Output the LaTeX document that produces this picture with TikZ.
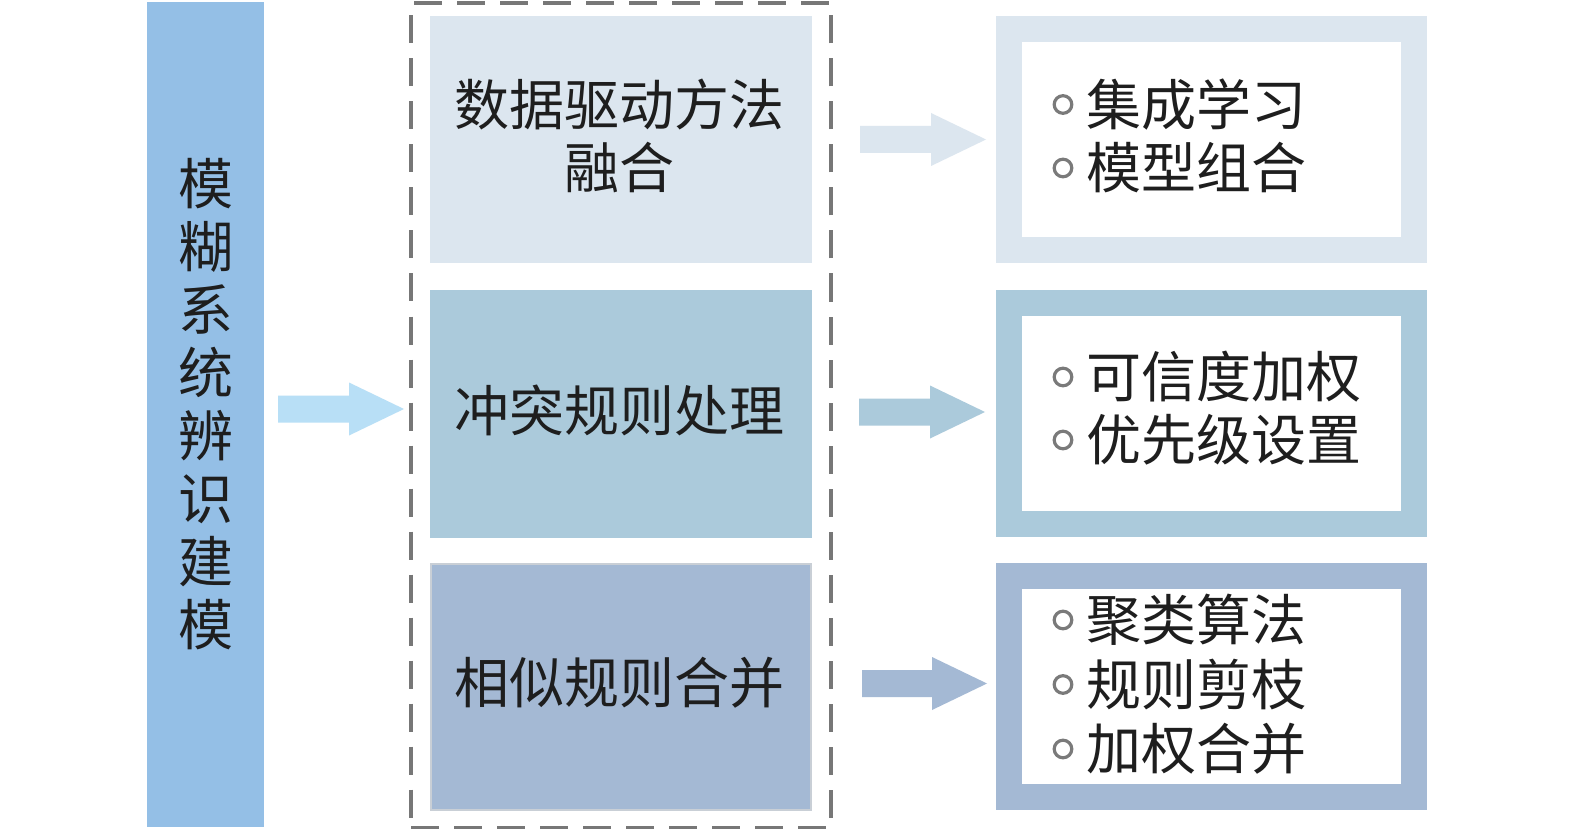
\documentclass[tikz,border=0pt]{standalone}
\usepackage{fontspec}
\newfontfamily\cjk{Noto Sans CJK SC}
\usetikzlibrary{calc}
\definecolor{barc}{HTML}{94BFE6}
\definecolor{arr0}{HTML}{B8DFF6}
\definecolor{cA}{HTML}{DCE6EF}
\definecolor{cB}{HTML}{ABCADB}
\definecolor{cC}{HTML}{A4B9D4}
\definecolor{cCb}{HTML}{C9CFD6}
\definecolor{dashc}{HTML}{777777}
\definecolor{bulc}{HTML}{7A7A7A}
\definecolor{txtc}{HTML}{1E1E1E}
\newcommand{\blockarr}[3]{%
  \fill[#3] ($(#1)+(0,-13.5)$) -- ($(#2)+(-55,-13.5)$) -- ($(#2)+(-55,-26.5)$) -- (#2)
    -- ($(#2)+(-55,26.5)$) -- ($(#2)+(-55,13.5)$) -- ($(#1)+(0,13.5)$) -- cycle;}
\begin{document}
\begin{tikzpicture}[x=1pt,y=-1pt,
  box/.style={rectangle,draw=none,inner sep=0pt,outer sep=0pt},
  midbox/.style={box,minimum width=382pt,minimum height=247pt},
  frame/.style={box,draw=#1,line width=26pt,fill=white,minimum width=405pt,minimum height=221pt},
  txt/.style={inner sep=0pt,outer sep=0pt,text=txtc,font=\cjk\fontsize{55pt}{63pt}\selectfont},
  bul/.style={draw=bulc,line width=3.2pt,fill=none}]
\useasboundingbox (0,0) rectangle (1575,829);
\fill[white] (0,0) rectangle (1575,829);
% left bar
\node[box,fill=barc,minimum width=117pt,minimum height=825pt] (bar) at (205.5,414.5) {};
\node[txt,align=center] (bart) at (205.5,404.5) {模\\糊\\系\\统\\辨\\识\\建\\模};
% dashed group
\node[box,draw=dashc,line width=4pt,dash pattern=on 28pt off 15pt,minimum width=420pt,minimum height=824.5pt] (grp) at (621,415.25) {};
% middle boxes
\node[midbox,fill=cA] (m1) at (621,139.5) {};
\node[midbox,fill=cB,minimum height=248pt] (m2) at (621,414) {};
\node[midbox,fill=cC,draw=cCb,line width=2pt,minimum height=246pt,minimum width=380pt] (m3) at (621,687) {};
\node[txt,align=center] (t1) at (619,136) {数据驱动方法\\融合};
\node[txt] (t2) at (619,410) {冲突规则处理};
\node[txt] (t3) at (619,683) {相似规则合并};
% right frames
\node[frame=cA] (r1) at (1211.5,139.5) {};
\node[frame=cB] (r2) at (1211.5,413.5) {};
\node[frame=cC] (r3) at (1211.5,686.5) {};
\node[txt,align=left,anchor=west] (rt1) at (1086,136) {集成学习\\模型组合};
\node[txt,align=left,anchor=west] (rt2) at (1086,408.5) {可信度加权\\优先级设置};
\node[txt,align=left,anchor=west,font=\cjk\fontsize{55pt}{64.5pt}\selectfont] (rt3) at (1086,684.5) {聚类算法\\规则剪枝\\加权合并};
% bullets
\foreach \yy in {104.5,168,377,440,620,684.5,749}
  \draw[bul] (1063,\yy) circle (8.8pt);
% arrows
\coordinate (a0s) at (278,409);
\coordinate (a0e) at (404,409);
\coordinate (a1s) at (860,139.5);
\coordinate (a1e) at (986,139.5);
\coordinate (a2s) at (859,412);
\coordinate (a2e) at (985,412);
\coordinate (a3s) at (862,683.5);
\coordinate (a3e) at (987,683.5);
\blockarr{a0s}{a0e}{arr0}
\blockarr{a1s}{a1e}{cA}
\blockarr{a2s}{a2e}{cB}
\blockarr{a3s}{a3e}{cC}
\end{tikzpicture}
\end{document}
